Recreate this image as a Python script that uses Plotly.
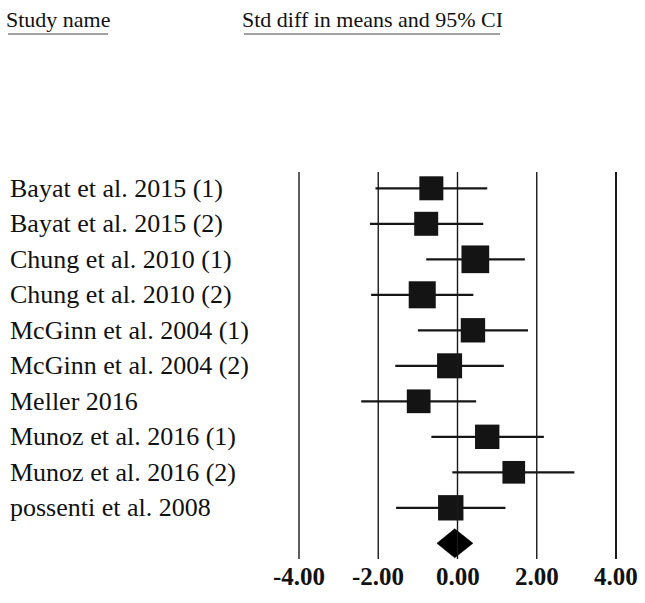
import plotly.graph_objects as go

W, H = 645, 603

studies = ["Bayat et al. 2015 (1)", "Bayat et al. 2015 (2)", "Chung et al. 2010 (1)",
           "Chung et al. 2010 (2)", "McGinn et al. 2004 (1)", "McGinn et al. 2004 (2)",
           "Meller 2016", "Munoz et al. 2016 (1)", "Munoz et al. 2016 (2)",
           "possenti et al. 2008"]
smd = [-0.66, -0.79, 0.45, -0.89, 0.39, -0.20, -0.98, 0.75, 1.42, -0.17]
lower = [-2.07, -2.21, -0.79, -2.18, -1.00, -1.57, -2.43, -0.66, -0.13, -1.55]
upper = [0.75, 0.65, 1.70, 0.40, 1.78, 1.17, 0.47, 2.18, 2.95, 1.21]
weights = [9.3, 9.3, 12.4, 11.8, 9.6, 10.1, 9.1, 9.6, 8.3, 10.4]
summary_smd = -0.07
summary_lower = -0.52
summary_upper = 0.39
tick_vals = [-4, -2, 0, 2, 4]
tick_labels = ["-4.00", "-2.00", "0.00", "2.00", "4.00"]

# layout geometry (pixels)
x_px_m4, x_px_p4 = 299.0, 616.0
ppu = (x_px_p4 - x_px_m4) / 8.0
x_range = [-4 - x_px_m4 / ppu, 4 + (W - x_px_p4) / ppu]
row0_px, row_step = 188.3, 35.5
y_range = [1 + (H - row0_px) / row_step, 1 - row0_px / row_step]


def py(px):
    return 1 - px / H


def pxx(px):
    return px / W


rows = list(range(1, len(studies) + 1))
sum_row = len(studies) + 1

fig = go.Figure()

# vertical reference lines
for t in tick_vals:
    fig.add_shape(type="line", xref="x", yref="paper", x0=t, x1=t,
                  y0=py(559), y1=py(172),
                  line=dict(color="#1a1a1a", width=1.4 if t != 4 else 2))

# CI lines
cx, cy = [], []
for lo, hi, r in zip(lower, upper, rows):
    cx += [lo, hi, None]
    cy += [r, r, None]
fig.add_trace(go.Scatter(x=cx, y=cy, mode="lines",
                         line=dict(color="#161616", width=2.2), hoverinfo="skip"))

# squares
k = 7.87
fig.add_trace(go.Scatter(x=smd, y=rows, mode="markers",
                         marker=dict(symbol="square", color="#141414", opacity=1,
                                     size=[k * w ** 0.5 for w in weights],
                                     line=dict(width=0)),
                         hoverinfo="skip"))

# summary diamond
hh = 0.41
fig.add_trace(go.Scatter(
    x=[summary_lower, summary_smd, summary_upper, summary_smd, summary_lower],
    y=[sum_row, sum_row - hh, sum_row, sum_row + hh, sum_row],
    mode="lines", fill="toself", fillcolor="#000000",
    line=dict(color="#000000", width=0.5), hoverinfo="skip"))

serif = "Liberation Serif"

# study labels
for name, r in zip(studies, rows):
    fig.add_annotation(x=pxx(8), xref="paper", y=r, yref="y", text=name,
                       showarrow=False, xanchor="left", yanchor="middle",
                       font=dict(family=serif, size=26, color="#111"))

# tick labels
for t, lab in zip(tick_vals, tick_labels):
    fig.add_annotation(x=t, xref="x", y=py(576), yref="paper", text="<b>" + lab + "</b>",
                       showarrow=False, xanchor="center", yanchor="middle",
                       font=dict(family=serif, size=25, color="#111"))

# headers
fig.add_annotation(x=pxx(58), xref="paper", y=py(20), yref="paper", text="Study name",
                   showarrow=False, xanchor="center", yanchor="middle",
                   font=dict(family=serif, size=22, color="#111"))
fig.add_shape(type="line", xref="paper", yref="paper", x0=pxx(8), x1=pxx(108),
              y0=py(34), y1=py(34), line=dict(color="#444", width=1))
fig.add_annotation(x=pxx(372), xref="paper", y=py(20), yref="paper",
                   text="Std diff in means and 95% CI",
                   showarrow=False, xanchor="center", yanchor="middle",
                   font=dict(family=serif, size=22, color="#111"))
fig.add_shape(type="line", xref="paper", yref="paper", x0=pxx(244), x1=pxx(500),
              y0=py(34), y1=py(34), line=dict(color="#444", width=1))

fig.update_layout(width=W, height=H, autosize=False,
                  margin=dict(l=0, r=0, t=0, b=0),
                  paper_bgcolor="white", plot_bgcolor="white",
                  showlegend=False,
                  xaxis=dict(range=x_range, visible=False, fixedrange=True),
                  yaxis=dict(range=y_range, visible=False, fixedrange=True))

fig.write_html("out.html", config={"displayModeBar": False})
